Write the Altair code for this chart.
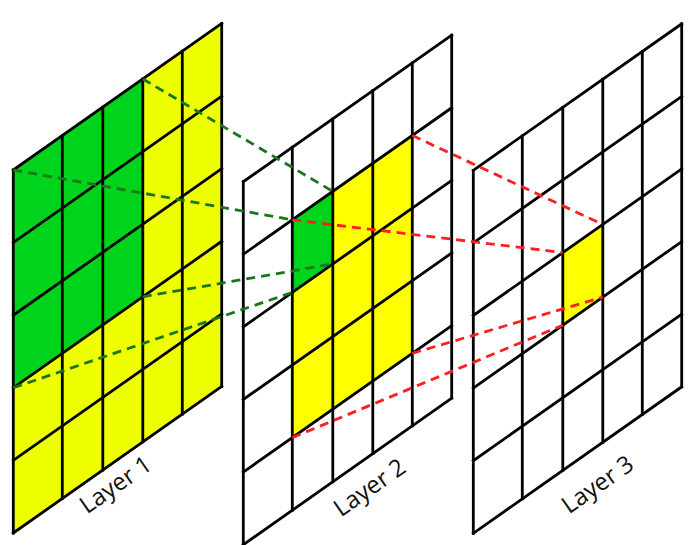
import pandas as pd
import altair as alt

# cell states per layer, rows top to bottom: G = green, Y = yellow, . = empty
layer_names = ["Layer 1", "Layer 2", "Layer 3"]
layer1_cells = ["GGGYY", "GGGYY", "GGGYY", "YYYYY", "YYYYY"]
layer2_cells = [".....", ".GYY.", ".YYY.", ".YYY.", "....."]
layer3_cells = [".....", ".....", "..Y..", ".....", "....."]

# receptive field links, corners given as (col, row) on the source / target grid
green_links_from = [(3, 0), (0, 0), (3, 3), (0, 3)]
green_links_to = [(2, 1), (1, 1), (2, 2), (1, 2)]
red_links_from = [(4, 1), (1, 1), (4, 4), (1, 4)]
red_links_to = [(3, 2), (2, 2), (3, 3), (2, 3)]

# layout of the slanted grids (page pixels)
LEFT = [13.3, 243.3, 473.3]
TOP = [170.0, 181.7, 170.3]
COL_X = [0, 49, 89.5, 129.5, 169, 208.4]
GRID_W = 208.4
ROW_H = 72.6
SKEW = 146.5
LABEL_POS = [(103, 25), (127, 33), (125, 40)]  # along the bottom edge, gap below it

YELLOW = ["#eeff00", "#ffff00", "#ffff00"]
GREEN = "#00d31c"


def corner(layer, col, row):
    cx = COL_X[col]
    return LEFT[layer] + cx, TOP[layer] + row * ROW_H - SKEW * cx / GRID_W


# cells as two-point areas (vertical sides, slanted top and bottom)
cell_rows = []
for li, grid in enumerate([layer1_cells, layer2_cells, layer3_cells]):
    for r, row in enumerate(grid):
        for c, state in enumerate(row):
            fill = {"G": GREEN, "Y": YELLOW[li], ".": "#ffffff"}[state]
            for cc in (c, c + 1):
                x, y = corner(li, cc, r)
                cell_rows.append({"cell": f"{li}-{r}-{c}", "x": x, "y": y,
                                  "y2": y + ROW_H, "fill": fill})
cells = pd.DataFrame(cell_rows)

# grid lines
line_rows = []
for li in range(3):
    for k in range(6):
        x, y = corner(li, k, 0)
        x2, y2 = corner(li, k, 5)
        line_rows.append({"x": x, "y": y, "x2": x2, "y2": y2})
        x, y = corner(li, 0, k)
        x2, y2 = corner(li, 5, k)
        line_rows.append({"x": x, "y": y, "x2": x2, "y2": y2})
lines = pd.DataFrame(line_rows)

# dashed links between layers
link_rows = []
for src, froms, tos, color in [(0, green_links_from, green_links_to, "#1b761b"),
                               (1, red_links_from, red_links_to, "#ff1f1f")]:
    for a, b in zip(froms, tos):
        x, y = corner(src, *a)
        x2, y2 = corner(src + 1, *b)
        link_rows.append({"x": x, "y": y, "x2": x2, "y2": y2, "color": color})
links = pd.DataFrame(link_rows)

labels = pd.DataFrame([
    {"x": LEFT[i] + off,
     "y": TOP[i] + 5 * ROW_H - SKEW * off / GRID_W + gap,
     "text": layer_names[i]}
    for i, (off, gap) in enumerate(LABEL_POS)
])

xs = alt.Scale(domain=[8, 687], nice=False, zero=False)
ys = alt.Scale(domain=[8, 545], nice=False, zero=False, reverse=True)
X = alt.X("x:Q", scale=xs, axis=None)
Y = alt.Y("y:Q", scale=ys, axis=None)

cell_layer = alt.Chart(cells).mark_area(interpolate="linear", opacity=1).encode(
    x=X, y=Y, y2=alt.Y2("y2:Q"), detail="cell:N",
    color=alt.Color("fill:N", scale=None)
)

grid_layer = alt.Chart(lines).mark_rule(
    color="black", strokeWidth=2.8, strokeCap="square"
).encode(x=X, y=Y, x2=alt.X2("x2:Q"), y2=alt.Y2("y2:Q"))

link_layer = alt.Chart(links).mark_rule(
    strokeWidth=2.8, strokeDash=[9, 6]
).encode(x=X, y=Y, x2=alt.X2("x2:Q"), y2=alt.Y2("y2:Q"),
         color=alt.Color("color:N", scale=None))

label_layer = alt.Chart(labels).mark_text(
    angle=325, fontSize=24, font="Open Sans", color="#111111",
    align="center", baseline="middle"
).encode(x=X, y=Y, text="text:N")

chart = alt.layer(cell_layer, grid_layer, link_layer, label_layer).properties(
    width=679, height=537, padding=0,
    autosize=alt.AutoSizeParams(type="none")
).configure_view(stroke=None)

chart.save("out.html", embed_options={"renderer": "svg", "actions": False})
